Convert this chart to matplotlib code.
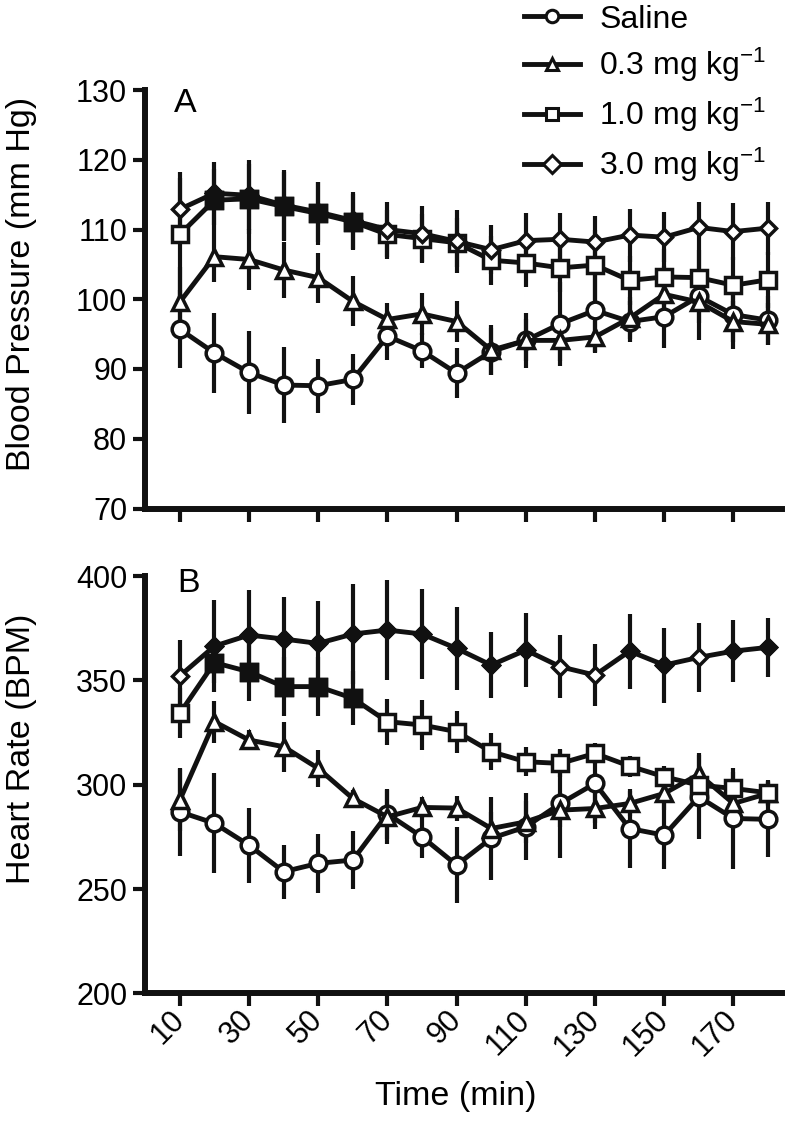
import numpy as np
import matplotlib
matplotlib.use("Agg")
import matplotlib.pyplot as plt
from matplotlib.lines import Line2D

plt.rcParams['font.family'] = ['Liberation Sans', 'DejaVu Sans']
plt.rcParams['mathtext.fontset'] = 'custom'
plt.rcParams['mathtext.rm'] = 'Liberation Sans'
plt.rcParams['mathtext.default'] = 'regular'

# Time points (min)
time = [10, 20, 30, 40, 50, 60, 70, 80, 90, 100, 110, 120, 130, 140, 150, 160, 170, 180]

# Panel A - blood pressure (mm Hg), mean and SEM
bp_saline = [95.7, 92.3, 89.5, 87.7, 87.6, 88.5, 94.7, 92.6, 89.4, 92.5, 94.1, 96.5, 98.4, 96.8, 97.5, 100.4, 97.8, 97.0]
bp_saline_err = [5.6, 5.8, 6.0, 5.5, 3.9, 3.6, 3.4, 2.5, 3.6, 3.4, 4.0, 6.0, 6.0, 3.0, 4.5, 6.3, 5.0, 3.5]
bp_low = [99.6, 106.1, 105.7, 104.2, 103.1, 99.7, 97.1, 97.9, 96.8, 92.7, 94.1, 94.1, 94.6, 97.3, 100.7, 99.6, 96.8, 96.4]
bp_low_err = [5.0, 3.6, 4.4, 4.0, 3.6, 3.6, 2.4, 3.0, 3.0, 3.6, 3.0, 3.0, 2.3, 3.0, 4.0, 3.0, 3.0, 3.0]
bp_mid = [109.3, 114.2, 114.4, 113.3, 112.3, 111.1, 109.3, 108.7, 108.1, 105.6, 105.2, 104.5, 104.9, 102.7, 103.2, 103.1, 102.0, 102.8]
bp_mid_err = [9.0, 4.5, 5.0, 5.0, 4.5, 4.0, 3.5, 3.5, 3.5, 3.5, 3.5, 3.5, 5.0, 3.5, 4.0, 4.0, 4.0, 4.0]
bp_high = [112.9, 115.2, 114.9, 113.5, 112.5, 111.3, 110.0, 109.4, 108.3, 107.1, 108.4, 108.6, 108.2, 109.2, 108.9, 110.3, 109.7, 110.2]
bp_high_err = [4.5, 4.5, 5.0, 5.0, 4.3, 4.1, 4.0, 4.0, 4.5, 3.5, 4.0, 3.7, 3.8, 3.8, 3.6, 3.7, 4.1, 3.8]

# Panel B - heart rate (BPM), mean and SEM
hr_saline = [287.0, 281.5, 271.0, 258.3, 262.3, 263.9, 286.0, 275.0, 261.5, 274.3, 279.8, 291.0, 300.6, 279.0, 275.8, 294.2, 283.8, 283.4]
hr_saline_err = [21, 24, 18, 13, 14, 14, 12, 10, 18, 20, 16, 26, 19, 19, 16, 20, 24, 18]
hr_low = [292.6, 330.2, 321.4, 318.2, 307.8, 293.4, 284.6, 289.1, 288.8, 279.0, 282.2, 287.8, 288.6, 291.0, 295.8, 305.0, 291.0, 295.8]
hr_low_err = [15, 10, 5, 12, 9, 4, 13, 5, 6, 8, 10, 8, 10, 6, 8, 10, 7, 6]
hr_mid = [334.2, 358.5, 354.1, 347.0, 347.0, 341.4, 330.2, 328.6, 325.4, 315.8, 311.0, 310.2, 315.0, 308.9, 303.8, 299.8, 298.2, 296.1]
hr_mid_err = [12, 10, 14, 14, 14, 13, 11, 12, 10, 9, 7, 6.5, 5, 5, 5, 6, 8, 6]
hr_high = [352.1, 366.4, 371.7, 369.8, 367.7, 372.2, 374.1, 372.2, 365.3, 357.3, 364.5, 356.5, 352.5, 364.0, 357.3, 361.0, 364.0, 365.8]
hr_high_err = [17, 22, 21.6, 20, 20.5, 24, 24, 21.4, 20, 16, 17.6, 15, 15, 18, 18, 16.6, 15, 14]

# filled markers = significant vs saline
bp_mid_sig = [0, 1, 1, 1, 1, 1, 0, 0, 0, 0, 0, 0, 0, 0, 0, 0, 0, 0]
bp_high_sig = [0, 1, 1, 1, 1, 1, 0, 0, 0, 0, 0, 0, 0, 0, 0, 0, 0, 0]
hr_mid_sig = [0, 1, 1, 1, 1, 1, 0, 0, 0, 0, 0, 0, 0, 0, 0, 0, 0, 0]
hr_high_sig = [0, 1, 1, 1, 1, 1, 1, 1, 1, 1, 1, 0, 0, 1, 1, 0, 1, 1]

labels = ['Saline', '0.3 mg kg$^{-1}$', '1.0 mg kg$^{-1}$', '3.0 mg kg$^{-1}$']
markers = ['o', '^', 's', 'D']
msizes = [12, 11.5, 11, 8.5]

t = np.array(time)
K = '#111111'


def draw_series(ax, y, err, marker, ms, sig=None):
    y = np.array(y)
    ax.errorbar(t, y, yerr=err, fmt='none', ecolor=K, elinewidth=3, capsize=0, zorder=2)
    ax.plot(t, y, '-', color=K, lw=3.5, marker=marker, ms=ms,
            mfc='white', mec=K, mew=2.5, zorder=3)
    if sig is not None:
        s = np.array(sig, dtype=bool)
        ax.plot(t[s], y[s], ls='none', marker=marker, ms=ms,
                mfc=K, mec=K, mew=2.5, zorder=4)


def style_axis(ax):
    for side in ['top', 'right']:
        ax.spines[side].set_visible(False)
    for side in ['left', 'bottom']:
        ax.spines[side].set_linewidth(4.3)
        ax.spines[side].set_color(K)
    ax.set_xlim(0, 184)
    ax.set_xticks(range(10, 180, 20))
    ax.tick_params(axis='both', width=3, length=9, color=K, labelsize=22, direction='out')
    ax.tick_params(axis='y', pad=4)
    ax.tick_params(axis='x', pad=7)


fig = plt.figure(figsize=(7.85, 11.25), dpi=100)
axA = fig.add_axes([0.185, 0.548, 0.811, 0.372])
axB = fig.add_axes([0.185, 0.117, 0.811, 0.371])

# -------------------------
# Panel A
# -------------------------
draw_series(axA, bp_saline, bp_saline_err, markers[0], msizes[0])
draw_series(axA, bp_low, bp_low_err, markers[1], msizes[1])
draw_series(axA, bp_mid, bp_mid_err, markers[2], msizes[2], bp_mid_sig)
draw_series(axA, bp_high, bp_high_err, markers[3], msizes[3], bp_high_sig)
style_axis(axA)
axA.set_ylim(70, 130)
axA.set_yticks(range(70, 131, 10))
axA.set_xticklabels([])
axA.set_ylabel('Blood Pressure (mm Hg)', fontsize=24.5)
axA.yaxis.set_label_coords(-0.17, 0.536)
axA.text(0.045, 1.005, 'A', transform=axA.transAxes, fontsize=24.5, va='top')

# -------------------------
# Panel B
# -------------------------
draw_series(axB, hr_saline, hr_saline_err, markers[0], msizes[0])
draw_series(axB, hr_low, hr_low_err, markers[1], msizes[1])
draw_series(axB, hr_mid, hr_mid_err, markers[2], msizes[2], hr_mid_sig)
draw_series(axB, hr_high, hr_high_err, markers[3], msizes[3], hr_high_sig)
style_axis(axB)
axB.set_ylim(200, 400)
axB.set_yticks(range(200, 401, 50))
axB.set_xticklabels([str(v) for v in range(10, 180, 20)], rotation=45, ha='right',
                    va='center', rotation_mode='anchor')
axB.set_ylabel('Heart Rate (BPM)', fontsize=24.5)
axB.yaxis.set_label_coords(-0.17, 0.585)
axB.set_xlabel('Time (min)', fontsize=24.5)
axB.xaxis.set_label_coords(0.487, -0.21)
axB.text(0.05, 1.02, 'B', transform=axB.transAxes, fontsize=24.5, va='top')

# Legend
handles = [Line2D([0], [0], color=K, lw=3.5, marker=m, ms=9, mfc='white',
                  mec=K, mew=2.2) for m in markers]
fig.legend(handles, labels, loc='upper left', bbox_to_anchor=(0.668, 0.996),
           frameon=False, fontsize=23, handlelength=1.75, labelspacing=0.36,
           handletextpad=0.6, borderaxespad=0, borderpad=0)

plt.savefig('out.png', dpi=100)
